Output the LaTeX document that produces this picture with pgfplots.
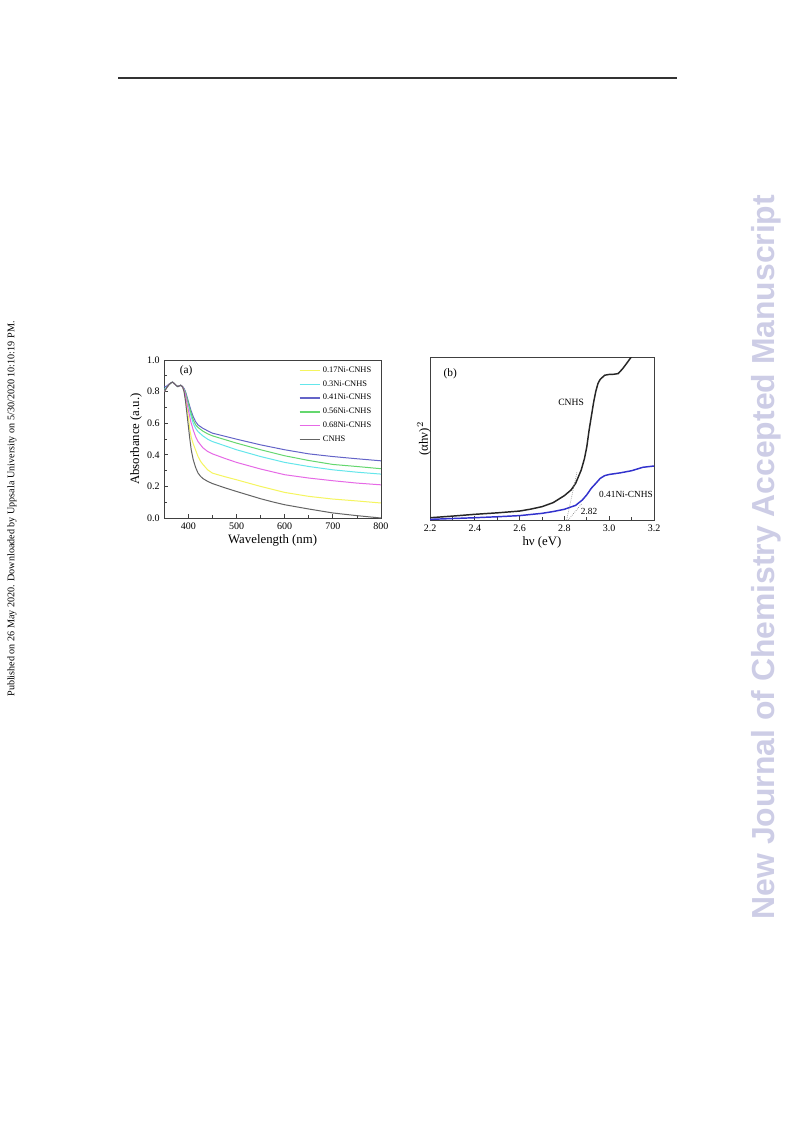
\documentclass[border=0pt]{standalone}
\usepackage{pgfplots}
\pgfplotsset{compat=1.18}
\usepackage{fontspec}
\setmainfont{Liberation Serif}
\newfontfamily\sansb{Liberation Sans}
\definecolor{cYel}{RGB}{245,245,95}
\definecolor{cCyan}{RGB}{100,230,235}
\definecolor{cBlue}{RGB}{100,100,200}
\definecolor{cGreen}{RGB}{100,215,110}
\definecolor{cMag}{RGB}{230,105,230}
\definecolor{cGray}{RGB}{100,100,100}
\definecolor{cB}{RGB}{50,50,205}
\definecolor{wm}{RGB}{205,205,230}
\begin{document}
\begin{tikzpicture}
\path[fill=white,use as bounding box] (0,0) rectangle (793*0.75pt,-1121*0.75pt);
\draw[line width=0.9pt,black!80] (118*0.75pt,-78*0.75pt) -- (677*0.75pt,-78*0.75pt);
\node[rotate=90,font=\fontsize{7.6}{9}\selectfont,inner sep=0pt] at (12*0.75pt,-509*0.75pt) {Published on 26 May 2020. Downloaded by Uppsala University on 5/30/2020 10:10:19 PM.};
\node[rotate=90,font=\sansb\bfseries\fontsize{23.9}{28}\selectfont,text=wm,inner sep=0pt] at (766*0.75pt,-557*0.75pt) {New Journal of Chemistry Accepted Manuscript};

\begin{axis}[
  at={(164.3*0.75pt,-518*0.75pt)}, anchor=south west,
  scale only axis, width=162.5pt, height=118.5pt,
  xmin=350, xmax=800, ymin=0, ymax=1.0,
  xtick={400,500,600,700,800}, minor xtick={450,550,650,750},
  ytick={0,0.2,0.4,0.6,0.8,1.0}, minor ytick={0.1,0.3,0.5,0.7,0.9},
  yticklabel style={/pgf/number format/.cd,fixed,fixed zerofill,precision=1},
  tick pos=left, tick align=inside,
  major tick length=3pt, minor tick length=2pt,
  axis line style={black!75, line width=0.6pt},
  every tick/.style={black!75, line width=0.5pt},
  /pgf/number format/assume math mode=true,
  tick label style={font=\fontsize{7.5}{8}\selectfont},
  xlabel={Wavelength (nm)}, ylabel={Absorbance (a.u.)},
  label style={font=\fontsize{9.6}{11}\selectfont},
  xlabel style={yshift=3pt}, ylabel style={yshift=-3pt},
  legend style={at={(0.62,0.975)}, anchor=north west, draw=none, fill=none,
    font=\fontsize{6.3}{7}\selectfont, inner sep=0pt, row sep=0.6pt},
  legend cell align=left,
  legend image code/.code={\draw[#1,line width=1pt] plot coordinates {(0pt,0pt) (15pt,0pt)};},
  every axis plot/.append style={line width=0.75pt},
]
\addplot[cYel] coordinates {(350,0.80)(355,0.825)(360,0.845)(364,0.855)(367,0.86)(371,0.85)(375,0.838)(378,0.832)(381,0.836)(384,0.84)(388,0.83)(391,0.805)(394,0.76)(397,0.70)(400,0.64)(403,0.56)(406,0.51)(410,0.47)(415,0.43)(420,0.39)(425,0.36)(430,0.34)(440,0.305)(450,0.284)(475,0.262)(500,0.242)(550,0.2)(600,0.162)(650,0.137)(700,0.12)(750,0.108)(800,0.095)};
\addlegendentry{0.17Ni-CNHS}
\addplot[cCyan] coordinates {(350,0.815)(355,0.83)(360,0.845)(364,0.855)(367,0.86)(371,0.85)(375,0.838)(378,0.832)(381,0.836)(384,0.84)(388,0.83)(391,0.815)(394,0.79)(397,0.755)(400,0.716)(405,0.65)(410,0.60)(415,0.568)(420,0.547)(430,0.52)(440,0.499)(450,0.484)(475,0.458)(500,0.432)(550,0.389)(600,0.352)(650,0.326)(700,0.305)(750,0.29)(800,0.278)};
\addlegendentry{0.3Ni-CNHS}
\addplot[cBlue] coordinates {(350,0.83)(355,0.835)(360,0.848)(364,0.856)(367,0.86)(371,0.85)(375,0.838)(378,0.832)(381,0.836)(384,0.84)(388,0.832)(391,0.82)(394,0.80)(397,0.77)(400,0.737)(405,0.685)(410,0.642)(415,0.61)(420,0.589)(430,0.568)(440,0.552)(450,0.537)(475,0.518)(500,0.499)(550,0.463)(600,0.432)(650,0.406)(700,0.389)(750,0.375)(800,0.362)};
\addlegendentry{0.41Ni-CNHS}
\addplot[cGreen] coordinates {(350,0.80)(355,0.825)(360,0.845)(364,0.855)(367,0.86)(371,0.85)(375,0.838)(378,0.832)(381,0.836)(384,0.84)(388,0.83)(391,0.815)(394,0.795)(397,0.76)(400,0.726)(405,0.67)(410,0.621)(415,0.59)(420,0.573)(430,0.55)(440,0.533)(450,0.52)(475,0.497)(500,0.474)(550,0.432)(600,0.394)(650,0.364)(700,0.339)(750,0.326)(800,0.312)};
\addlegendentry{0.56Ni-CNHS}
\addplot[cMag] coordinates {(350,0.80)(355,0.825)(360,0.845)(364,0.855)(367,0.86)(371,0.85)(375,0.838)(378,0.832)(381,0.836)(384,0.84)(388,0.83)(391,0.81)(394,0.78)(397,0.73)(400,0.684)(405,0.61)(410,0.558)(415,0.515)(420,0.484)(430,0.445)(440,0.421)(450,0.406)(475,0.378)(500,0.352)(550,0.31)(600,0.274)(650,0.253)(700,0.236)(750,0.221)(800,0.21)};
\addlegendentry{0.68Ni-CNHS}
\addplot[cGray] coordinates {(350,0.80)(355,0.825)(360,0.845)(364,0.855)(367,0.86)(371,0.85)(375,0.838)(378,0.832)(381,0.836)(384,0.84)(388,0.83)(391,0.80)(394,0.74)(397,0.66)(400,0.58)(403,0.50)(406,0.43)(410,0.37)(415,0.32)(420,0.285)(425,0.265)(430,0.25)(440,0.232)(450,0.218)(475,0.192)(500,0.168)(525,0.145)(550,0.122)(575,0.102)(600,0.084)(650,0.057)(700,0.032)(750,0.015)(800,0.0)};
\addlegendentry{CNHS}
\node[font=\fontsize{8.5}{10}\selectfont,anchor=west] at (rel axis cs:0.05,0.935) {(a)};
\end{axis}

\begin{axis}[
  at={(430*0.75pt,-520*0.75pt)}, anchor=south west,
  scale only axis, width=168pt, height=122pt,
  xmin=2.2, xmax=3.2, ymin=0, ymax=100,
  xtick={2.2,2.4,...,3.2}, minor xtick={2.3,2.5,...,3.1},
  xticklabel style={/pgf/number format/.cd,fixed,fixed zerofill,precision=1},
  ytick=\empty,
  tick pos=left, tick align=inside,
  major tick length=3pt, minor tick length=2pt,
  axis line style={black!75, line width=0.6pt},
  every tick/.style={black!75, line width=0.5pt},
  /pgf/number format/assume math mode=true,
  tick label style={font=\fontsize{7.5}{8}\selectfont},
  xlabel={hν (eV)}, ylabel={(αhν)$^2$},
  label style={font=\fontsize{9.6}{11}\selectfont},
  xlabel style={yshift=3pt}, ylabel style={yshift=-4pt},
  clip=true,
]
\addplot[black!85, line width=1.1pt] coordinates {(2.2,1.4)(2.3,2.4)(2.4,3.5)(2.5,4.4)(2.6,5.5)(2.65,6.7)(2.7,8.2)(2.75,10.7)(2.8,15)(2.83,18.5)(2.85,22.5)(2.875,30.7)(2.89,38)(2.9,45)(2.91,55)(2.92,63.5)(2.93,72)(2.94,79)(2.95,84)(2.96,86.5)(2.98,89)(3.0,89.5)(3.02,89.6)(3.04,90)(3.06,93)(3.08,96.7)(3.1,100.5)(3.12,104)};
\addplot[cB, line width=1.1pt] coordinates {(2.2,0.4)(2.3,0.9)(2.4,1.4)(2.5,2)(2.6,2.7)(2.7,4.1)(2.75,5.2)(2.8,6.6)(2.85,9)(2.88,12.3)(2.9,15.5)(2.92,19.5)(2.94,22.5)(2.96,25.6)(2.98,27.3)(3.0,28)(3.05,29)(3.1,30.3)(3.15,32.4)(3.2,33.2)};
\addplot[gray, densely dotted, line width=0.5pt] coordinates {(2.81,0)(2.857,30)};
\addplot[gray, densely dotted, line width=0.5pt] coordinates {(2.817,0)(2.877,10)};
\node[font=\fontsize{8.5}{10}\selectfont,anchor=west] at (rel axis cs:0.04,0.9) {(b)};
\node[font=\fontsize{7.2}{8}\selectfont] at (axis cs:2.83,72.5) {CNHS};
\node[font=\fontsize{7}{8}\selectfont] at (axis cs:3.075,16) {0.41Ni-CNHS};
\node[font=\fontsize{7}{8}\selectfont] at (axis cs:2.91,5) {2.82};
\end{axis}
\end{tikzpicture}
\end{document}
